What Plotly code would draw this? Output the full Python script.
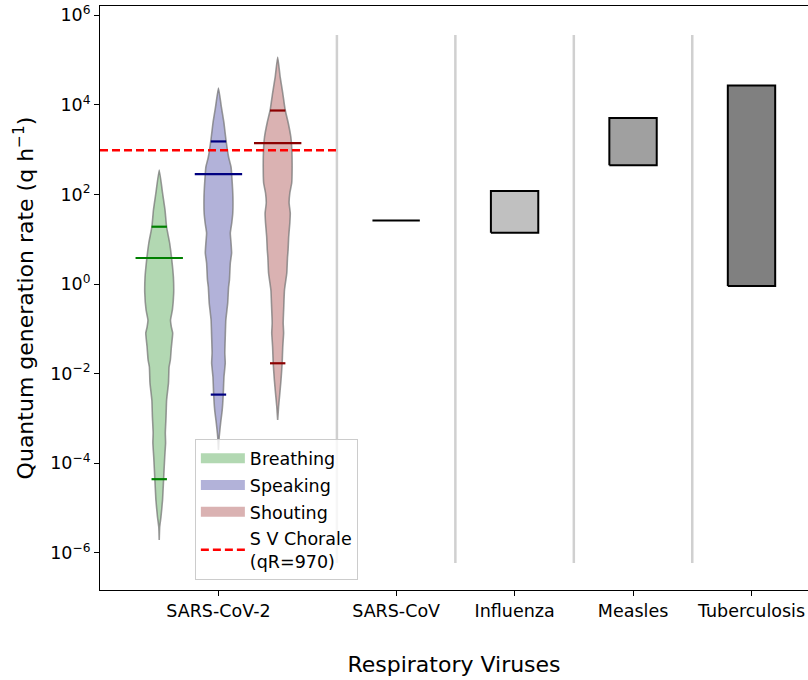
import numpy as np
import plotly.graph_objects as go

# ---------------- data ----------------
categories = ["SARS-CoV-2", "SARS-CoV", "Influenza", "Measles", "Tuberculosis"]
category_pos = [1.5, 3, 4, 5, 6]

# violin profiles (log10 of quanta rate, relative density)
breathing_log = [2.545, 2.031, 1.652, 1.272, 0.915, 0.536, 0.156, -0.201, -0.580, -0.804,
                 -0.960, -1.094, -1.406, -1.696, -1.853, -2.210, -2.589, -2.969, -3.326,
                 -3.549, -3.862, -4.375, -4.821, -5.201, -5.424, -5.714]
breathing_den = [0, .23, .40, .51, .72, .87, .98, 1.0, .91, .78, .84, .93, .84, .77, .68,
                 .64, .51, .47, .42, .44, .38, .30, .23, .12, .03, 0]

speaking_log = [4.375, 3.951, 3.594, 3.214, 2.835, 2.612, 2.321, 1.942, 1.585, 1.362, 1.138,
                0.915, 0.692, 0.469, 0.089, -0.067, -0.424, -0.804, -1.183, -1.540, -1.763,
                -2.076, -2.478, -2.813, -3.103, -3.415, -3.705]
speaking_den = [0, .20, .38, .52, .70, .87, .94, 1.0, .99, .92, .82, .87, .91, .82, .76, .70,
                .64, .51, .47, .44, .47, .38, .33, .26, .15, .05, 0]

shouting_log = [5.067, 4.621, 4.263, 3.884, 3.594, 3.281, 2.991, 2.612, 2.254, 2.031, 1.808,
                1.585, 1.362, 1.049, 0.759, 0.603, 0.246, -0.134, -0.513, -0.871, -1.094,
                -1.406, -1.763, -2.143, -2.433, -2.746, -3.036]
shouting_den = [0, .17, .35, .52, .73, .91, .98, 1.0, .97, .84, .79, .87, .84, .76, .72, .68,
                .63, .47, .42, .38, .41, .35, .31, .23, .15, .06, 0]

# summary lines per activity: central value, upper and lower marks (q/h)
breathing_stats = [3.8, 19, 4.4e-5]
speaking_stats = [283, 1520, 0.0034]
shouting_stats = [1400, 7450, 0.017]

chorale_qr = 970
sars_cov_value = 26
influenza_range = [14, 119]
measles_range = [450, 5100]
tuberculosis_range = [0.9, 27000]

separator_x = [2.5, 3.5, 4.5, 5.5]
separator_y = [5.9e-7, 3.6e5]

# ---------------- styles ----------------
FONT = "DejaVu Sans"
vio_pos = [1.0, 1.5, 2.0]
vio_fill = ["rgb(178,216,178)", "rgb(178,178,217)", "rgb(218,178,178)"]
vio_line = ["green", "navy", "darkred"]
names = ["Breathing", "Speaking", "Shouting"]
HALF = 0.122
LINE_HALF = 0.2
SHORT_HALF = 0.065

fig = go.Figure()

# separators
for sx in separator_x:
    fig.add_trace(go.Scatter(x=[sx, sx], y=separator_y, mode="lines",
                             line=dict(color="rgb(208,208,208)", width=2.5),
                             showlegend=False, hoverinfo="skip"))

profiles = [(breathing_log, breathing_den, breathing_stats),
            (speaking_log, speaking_den, speaking_stats),
            (shouting_log, shouting_den, shouting_stats)]

for i, (lg, den, st) in enumerate(profiles):
    lg = np.array(lg)
    den = np.array(den)
    c = vio_pos[i]
    xs = np.concatenate([c + den * HALF, (c - den * HALF)[::-1]])
    ys = np.concatenate([10 ** lg, (10 ** lg)[::-1]])
    fig.add_trace(go.Scatter(x=xs, y=ys, mode="lines", fill="toself",
                             fillcolor=vio_fill[i],
                             line=dict(color="rgba(120,120,120,0.75)", width=1.6, shape="spline", smoothing=0.4),
                             name=names[i], showlegend=False, legendgroup="g%d" % i))
    # legend swatch
    fig.add_trace(go.Scatter(x=[None], y=[None], mode="lines",
                             line=dict(color=vio_fill[i], width=14),
                             name=names[i], legendrank=i + 1, legendgroup="g%d" % i))

for i, (lg, den, st) in enumerate(profiles):
    c = vio_pos[i]
    fig.add_trace(go.Scatter(x=[c - LINE_HALF, c + LINE_HALF], y=[st[0], st[0]], mode="lines",
                             line=dict(color=vio_line[i], width=2.2), showlegend=False))
    for v in st[1:]:
        fig.add_trace(go.Scatter(x=[c - SHORT_HALF, c + SHORT_HALF], y=[v, v], mode="lines",
                                 line=dict(color=vio_line[i], width=2.2), showlegend=False))

# chorale line
fig.add_trace(go.Scatter(x=[0.5, 2.5], y=[chorale_qr, chorale_qr], mode="lines",
                         line=dict(color="red", width=2.5, dash="8px,4px"),
                         name="S V Chorale<br>(qR=970)", legendrank=4, legendgroup="g3"))

# SARS-CoV line
fig.add_trace(go.Scatter(x=[3 - LINE_HALF, 3 + LINE_HALF], y=[sars_cov_value] * 2, mode="lines",
                         line=dict(color="black", width=2), showlegend=False))

# boxes
for pos, rng, col in [(4, influenza_range, "#c0c0c0"), (5, measles_range, "#a0a0a0"),
                      (6, tuberculosis_range, "#808080")]:
    fig.add_trace(go.Scatter(x=[pos - LINE_HALF, pos + LINE_HALF, pos + LINE_HALF, pos - LINE_HALF, pos - LINE_HALF],
                             y=[rng[0], rng[0], rng[1], rng[1], rng[0]], mode="lines", fill="toself",
                             fillcolor=col, line=dict(color="black", width=2), showlegend=False))

exps = list(range(-6, 7, 2))
fig.update_layout(
    width=808, height=680,
    paper_bgcolor="white", plot_bgcolor="white",
    margin=dict(l=100, r=0, t=6, b=90),
    font=dict(family=FONT, size=17.5, color="black"),
    showlegend=True,
    legend=dict(x=0.134, y=0.258, xanchor="left", yanchor="top",
                bgcolor="rgba(255,255,255,0.8)", bordercolor="#cccccc", borderwidth=1,
                font=dict(size=17.5), tracegroupgap=1, itemwidth=44),
    xaxis=dict(range=[0.5, 6.477], tickvals=category_pos, ticktext=categories,
               showgrid=False, zeroline=False, showline=True, linecolor="black", linewidth=1,
               mirror=True, ticks="outside", ticklen=5, tickcolor="black", automargin=False,
               tickfont=dict(size=17.5),
               title=dict(text="Respiratory Viruses", font=dict(size=22), standoff=36)),
    yaxis=dict(type="log", range=[-6.83, 6.205],
               tickvals=[10.0 ** e for e in exps],
               ticktext=[("10<sup>%s</sup>" % (str(e).replace("-", "−"))) for e in exps],
               showgrid=False, zeroline=False, showline=True, linecolor="black", linewidth=1,
               ticks="outside", ticklen=5, tickcolor="black", automargin=False,
               ticklabeloverflow="allow",
               tickfont=dict(size=17.5),
               title=dict(text="Quantum generation rate (q h<sup>−1</sup>)", font=dict(size=22), standoff=10)),
)

fig.write_html("out.html", config={"displayModeBar": False},
               post_script="document.body.style.margin='0';")
